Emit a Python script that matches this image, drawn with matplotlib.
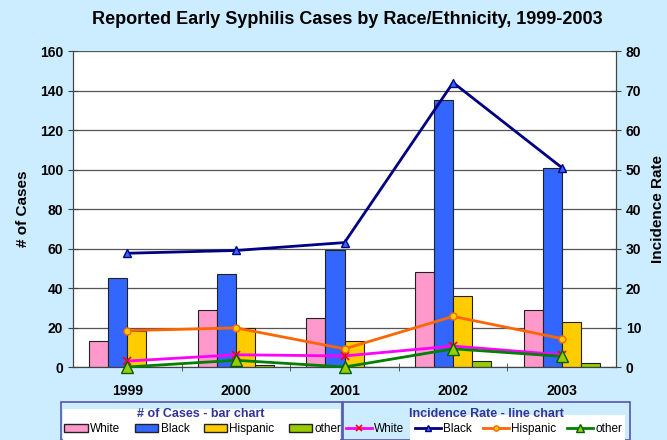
import numpy as np
import matplotlib.pyplot as plt
from matplotlib.patches import Rectangle, Patch
from matplotlib.lines import Line2D

plt.rcParams['font.family'] = ['Liberation Sans', 'DejaVu Sans']

years = ['1999', '2000', '2001', '2002', '2003']
groups = ['White', 'Black', 'Hispanic', 'other']

# number of cases (bars, left axis)
white_cases = [13, 29, 25, 48, 29]
black_cases = [45, 47, 59, 135, 101]
hisp_cases = [18, 20, 13, 36, 23]
other_cases = [0, 1, 0, 3, 2]

# incidence rate (lines, right axis)
white_rate = [1.5, 3.1, 2.8, 5.3, 3.1]
black_rate = [28.8, 29.5, 31.5, 72.0, 50.5]
hisp_rate = [9.2, 9.9, 4.6, 12.8, 7.2]
other_rate = [0, 1.7, 0, 4.6, 2.7]

bg = '#CCECFF'
bar_colors = ['#FF99CC', '#3366FF', '#FFCC00', '#99CC00']

fig = plt.figure(figsize=(6.67, 4.4), dpi=100, facecolor=bg)
ax = fig.add_axes([73 / 667, 73 / 440, 543 / 667, 316 / 440])
ax.set_facecolor('white')

x = np.arange(len(years))
w = 0.175
cases = [white_cases, black_cases, hisp_cases, other_cases]
for i, vals in enumerate(cases):
    ax.bar(x + (i - 1.5) * w, vals, width=w, color=bar_colors[i],
           edgecolor='#222222', linewidth=0.8, zorder=2)

ax.set_xlim(-0.5, 4.5)
ax.set_ylim(0, 160)
ax.set_yticks(range(0, 161, 20))
ax.yaxis.grid(True, color='#555555', linewidth=0.9, zorder=0)
ax.set_axisbelow(True)
ax.set_xticks(x)
ax.set_xticklabels(years, fontsize=10, fontweight='bold')
ax.set_xticks(np.arange(0.5, 4.5, 1), minor=True)
ax.tick_params(axis='x', which='major', length=0, pad=12)
ax.tick_params(axis='x', which='minor', direction='inout', length=6, color='#444444')
ax.tick_params(axis='y', direction='inout', length=7, color='#444444', labelsize=10)
for lab in ax.get_yticklabels():
    lab.set_fontweight('bold')
ax.spines['top'].set_visible(False)
for s in ['left', 'right', 'bottom']:
    ax.spines[s].set_color('#444444')
ax.set_ylabel('# of Cases', fontsize=11, fontweight='bold', labelpad=7)

ax2 = ax.twinx()
ax2.set_ylim(0, 80)
ax2.set_yticks(range(0, 81, 10))
ax2.tick_params(axis='y', direction='inout', length=7, color='#444444', labelsize=10)
for lab in ax2.get_yticklabels():
    lab.set_fontweight('bold')
ax2.spines['top'].set_visible(False)
for s in ['left', 'right', 'bottom']:
    ax2.spines[s].set_color('#444444')
ax2.set_ylabel('Incidence Rate', fontsize=11, fontweight='bold', labelpad=7)

line_styles = [
    dict(color='#FF00FF', marker='x', mec='#FF0000', ms=6, mew=1.2),
    dict(color='#000080', marker='^', mfc='#3366FF', mec='#000080', ms=6),
    dict(color='#FF6600', marker='o', mfc='#FFCC00', mec='#FF6600', ms=5),
    dict(color='#008000', marker='^', mfc='#99CC00', mec='#006000', ms=8),
]
rates = [white_rate, black_rate, hisp_rate, other_rate]
for vals, st in zip(rates, line_styles):
    ax2.plot(x, vals, lw=2, clip_on=False, zorder=3, **st)

fig.suptitle('Reported Early Syphilis Cases by Race/Ethnicity, 1999-2003',
             x=0.52, y=0.975, fontsize=13, fontweight='bold')

# legend boxes
border = '#5555AA'
fig.add_artist(Rectangle((61 / 667, 0), 281 / 667, 38 / 440, transform=fig.transFigure,
                         facecolor=bg, edgecolor=border, lw=1.2))
fig.add_artist(Rectangle((343 / 667, 0), 287 / 667, 38 / 440, transform=fig.transFigure,
                         facecolor=bg, edgecolor=border, lw=1.2))
fig.add_artist(Rectangle((63 / 667, 0), 277 / 667, 31 / 440, transform=fig.transFigure,
                         facecolor='white', edgecolor='none'))
fig.add_artist(Rectangle((410 / 667, 0), 215 / 667, 25 / 440, transform=fig.transFigure,
                         facecolor='white', edgecolor='none'))
fig.text(201 / 667, 1 - 414 / 440, '# of Cases - bar chart', ha='center', va='center',
         fontsize=9, fontweight='bold', color='#333399')
fig.text(486 / 667, 1 - 414 / 440, 'Incidence Rate - line chart', ha='center', va='center',
         fontsize=9, fontweight='bold', color='#333399')

bar_handles = [Patch(facecolor=c, edgecolor='#222222', lw=1) for c in bar_colors]
fig.legend(bar_handles, groups, loc='center', bbox_to_anchor=(203 / 667, 1 - 429 / 440),
           ncol=4, frameon=False, fontsize=8.5, handlelength=2.0, handleheight=0.6,
           handletextpad=0.2, columnspacing=1.2, borderpad=0)
line_handles = [Line2D([], [], lw=2, **st) for st in line_styles]
fig.legend(line_handles, groups, loc='center', bbox_to_anchor=(484 / 667, 1 - 429 / 440),
           ncol=4, frameon=False, fontsize=8.5, handlelength=2.2, markerscale=0.75,
           handletextpad=0.2, columnspacing=0.9, borderpad=0)

fig.savefig('out.png', dpi=100, facecolor=bg)
